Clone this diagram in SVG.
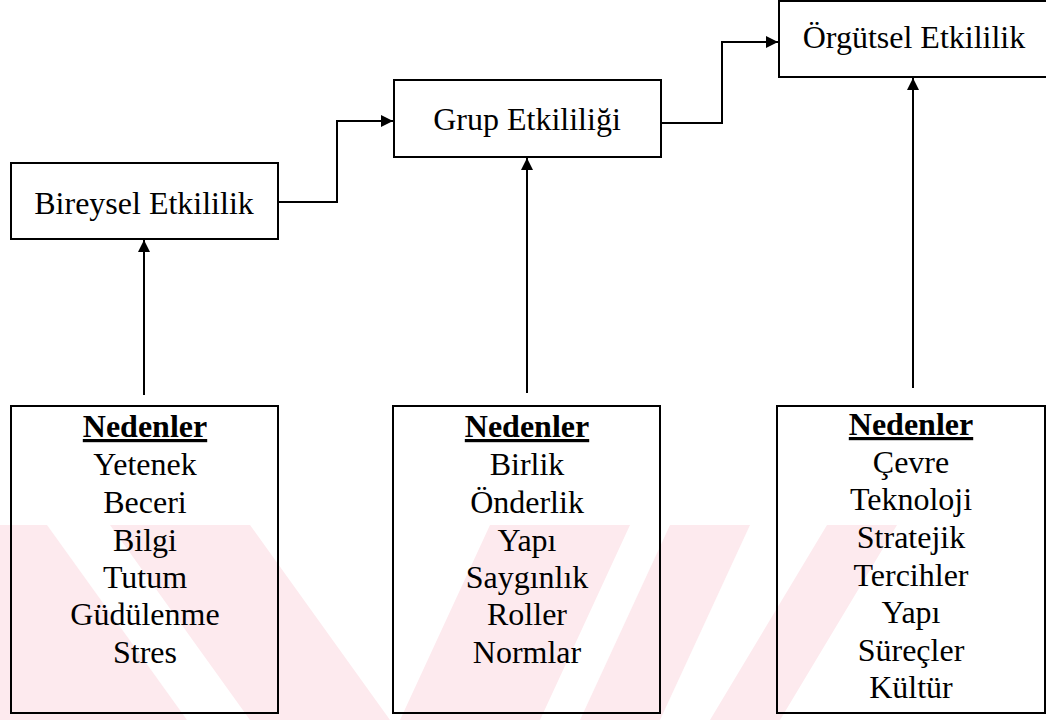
<svg xmlns="http://www.w3.org/2000/svg" width="1046" height="720" viewBox="0 0 1046 720">
<defs>
<marker id="ah" viewBox="0 0 12 12" refX="12" refY="6" markerWidth="12" markerHeight="12" markerUnits="userSpaceOnUse" orient="auto">
<path d="M0,0 L12,6 L0,12 Z" fill="#000"/>
</marker>
</defs>
<style>
.box{fill:none;stroke:#000;stroke-width:2}
.t{font-size:32px;fill:#000;text-anchor:middle}
.h{font-weight:bold;text-decoration:underline}
.c{fill:none;stroke:#000;stroke-width:2}
.wm{fill:#fdeaee}
</style>
<rect width="1046" height="720" fill="#fff"/>
<g id="watermark">
<polygon class="wm" points="0,525 47,525 187,720 0,720"/>
<polygon class="wm" points="110,525 250,525 390,720 250,720"/>
<polygon class="wm" points="490,525 630,525 540,720 400,720"/>
<polygon class="wm" points="670,525 750,525 660,720 580,720"/>
<polygon class="wm" points="827,525 897,525 780,720 710,720"/>
</g>
<g font-family="'Liberation Serif', 'Times New Roman', serif">
<g id="n1">
<rect class="box" x="11" y="163" width="267" height="76"/>
<text class="t" x="144" y="214">Bireysel Etkililik</text>
</g>
<g id="n2">
<rect class="box" x="394" y="80" width="267" height="77"/>
<text class="t" x="527" y="130">Grup Etkililiği</text>
</g>
<g id="n3">
<rect class="box" x="779" y="1" width="280" height="76"/>
<text class="t" x="914" y="48">Örgütsel Etkililik</text>
</g>
<g id="c1">
<rect class="box" x="11" y="406" width="267" height="307"/>
<text class="t h" x="145" y="437">Nedenler</text>
<text class="t" x="145" y="475">Yetenek</text>
<text class="t" x="145" y="513">Beceri</text>
<text class="t" x="145" y="551">Bilgi</text>
<text class="t" x="145" y="588">Tutum</text>
<text class="t" x="145" y="625">Güdülenme</text>
<text class="t" x="145" y="663">Stres</text>
</g>
<g id="c2">
<rect class="box" x="393" y="406" width="267" height="307"/>
<text class="t h" x="527" y="437">Nedenler</text>
<text class="t" x="527" y="475">Birlik</text>
<text class="t" x="527" y="513">Önderlik</text>
<text class="t" x="527" y="551">Yapı</text>
<text class="t" x="527" y="588">Saygınlık</text>
<text class="t" x="527" y="625">Roller</text>
<text class="t" x="527" y="663">Normlar</text>
</g>
<g id="c3">
<rect class="box" x="777" y="406" width="268" height="307"/>
<text class="t h" x="911" y="435">Nedenler</text>
<text class="t" x="911" y="473">Çevre</text>
<text class="t" x="911" y="510">Teknoloji</text>
<text class="t" x="911" y="548">Stratejik</text>
<text class="t" x="911" y="586">Tercihler</text>
<text class="t" x="911" y="623">Yapı</text>
<text class="t" x="911" y="661">Süreçler</text>
<text class="t" x="911" y="698">Kültür</text>
</g>
</g>
<g id="connectors">
<path class="c" d="M278,202 H337 V121 H393" marker-end="url(#ah)"/>
<path class="c" d="M661,123 H722 V42 H778" marker-end="url(#ah)"/>
<path class="c" d="M144,395 V240" marker-end="url(#ah)"/>
<path class="c" d="M527,393 V158" marker-end="url(#ah)"/>
<path class="c" d="M913,388 V78" marker-end="url(#ah)"/>
</g>
</svg>
